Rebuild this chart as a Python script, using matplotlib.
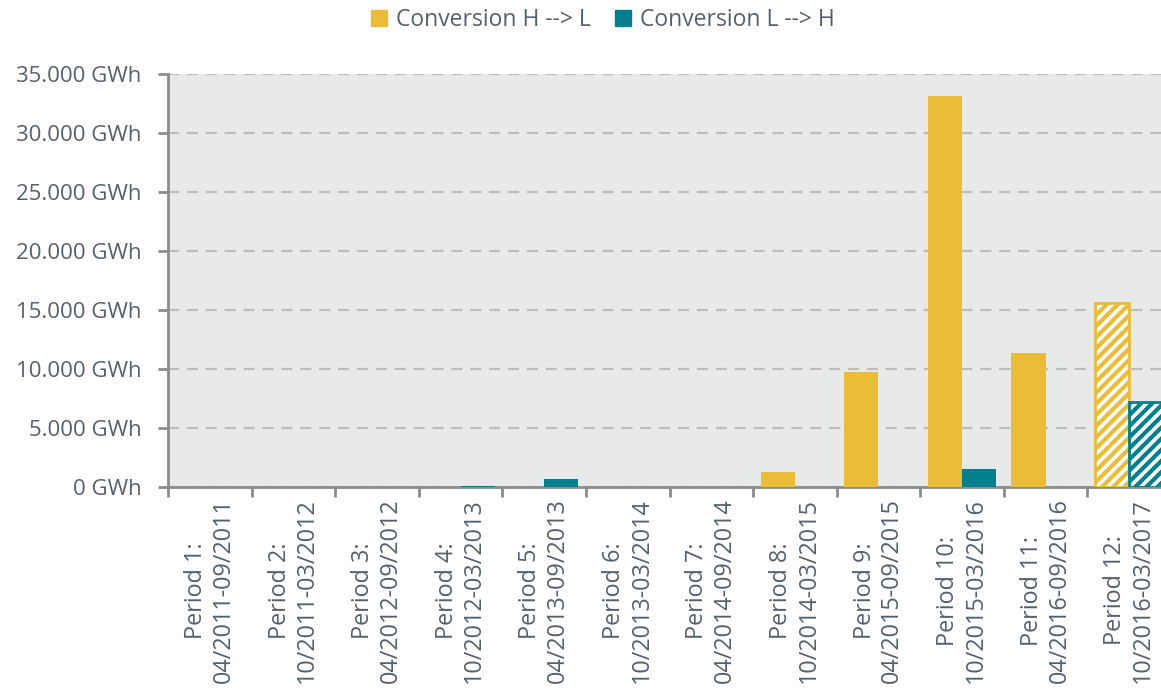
import numpy as np
import matplotlib.pyplot as plt
from matplotlib.ticker import FuncFormatter, FixedLocator
from matplotlib.lines import Line2D

# data (GWh)
periods = ["Period 1:\n04/2011-09/2011", "Period 2:\n10/2011-03/2012",
           "Period 3:\n04/2012-09/2012", "Period 4:\n10/2012-03/2013",
           "Period 5:\n04/2013-09/2013", "Period 6:\n10/2013-03/2014",
           "Period 7:\n04/2014-09/2014", "Period 8:\n10/2014-03/2015",
           "Period 9:\n04/2015-09/2015", "Period 10:\n10/2015-03/2016",
           "Period 11:\n04/2016-09/2016", "Period 12:\n10/2016-03/2017"]
h_to_l = [0, 0, 0, 0, 0, 0, 0, 1270, 9750, 33130, 11350, 15600]
l_to_h = [0, 0, 0, 100, 650, 0, 0, 0, 0, 1530, 0, 7200]
forecast = [False] * 11 + [True]   # last period drawn hatched

yellow = '#ebbc35'
teal = '#00808e'
txt = '#56606a'
axis_col = '#8c8c8c'

plt.rcParams['font.family'] = ['Open Sans', 'DejaVu Sans']
plt.rcParams['hatch.linewidth'] = 3.0

W, H = 1161, 697
fig = plt.figure(figsize=(W / 100, H / 100), dpi=100)
ax = fig.add_axes([168 / W, 1 - 487 / H, (1171 - 168) / W, (487 - 74) / H])
ax.set_facecolor('#e8eaea')

x = np.arange(len(periods))
bw = 0.41
for i in x:
    for val, off, col in ((h_to_l[i], -bw / 2, yellow), (l_to_h[i], bw / 2, teal)):
        if forecast[i]:
            ax.bar(i + off, val, bw, color='white', edgecolor=col, hatch='///',
                   linewidth=2, zorder=3)
        else:
            ax.bar(i + off, val, bw, color=col, linewidth=0, zorder=3)

ax.set_xlim(-0.5, len(periods) - 0.5)
ax.set_ylim(0, 35000)
ax.set_yticks(np.arange(0, 35001, 5000))
ax.yaxis.set_major_formatter(FuncFormatter(lambda v, p: f"{int(v):,} GWh".replace(',', '.')))
ax.grid(axis='y', color='#bdbdbd', linestyle=(0, (5, 3.5)), linewidth=1.6, zorder=1)
ax.set_axisbelow(True)

fs = 16
ax.set_xticks(x)
ax.set_xticklabels(periods, rotation=90, ha='center', va='top', multialignment='center')
ax.xaxis.set_minor_locator(FixedLocator(np.arange(-0.5, len(periods), 1)))
ax.tick_params(axis='x', which='major', length=0, pad=8, labelsize=16.8, labelcolor=txt)
ax.tick_params(axis='x', which='minor', length=7, width=2, color=axis_col)
ax.tick_params(axis='y', length=7, width=2, color=axis_col, labelsize=fs,
               labelcolor=txt, pad=12)

for s in ('top', 'right'):
    ax.spines[s].set_visible(False)
for s in ('left', 'bottom'):
    ax.spines[s].set_color(axis_col)
    ax.spines[s].set_linewidth(2)

handles = [Line2D([], [], marker='s', linestyle='none', markersize=11,
                  markerfacecolor=yellow, markeredgecolor=yellow),
           Line2D([], [], marker='s', linestyle='none', markersize=11,
                  markerfacecolor=teal, markeredgecolor=teal)]
fig.legend(handles, ['Conversion H --> L', 'Conversion L --> H'], loc='center',
           bbox_to_anchor=(601 / W, 1 - 20 / H), ncol=2, frameon=False,
           fontsize=16.5, labelcolor=txt, handletextpad=0.25, columnspacing=0.9,
           handlelength=1.0)

fig.savefig('out.png', dpi=100)
